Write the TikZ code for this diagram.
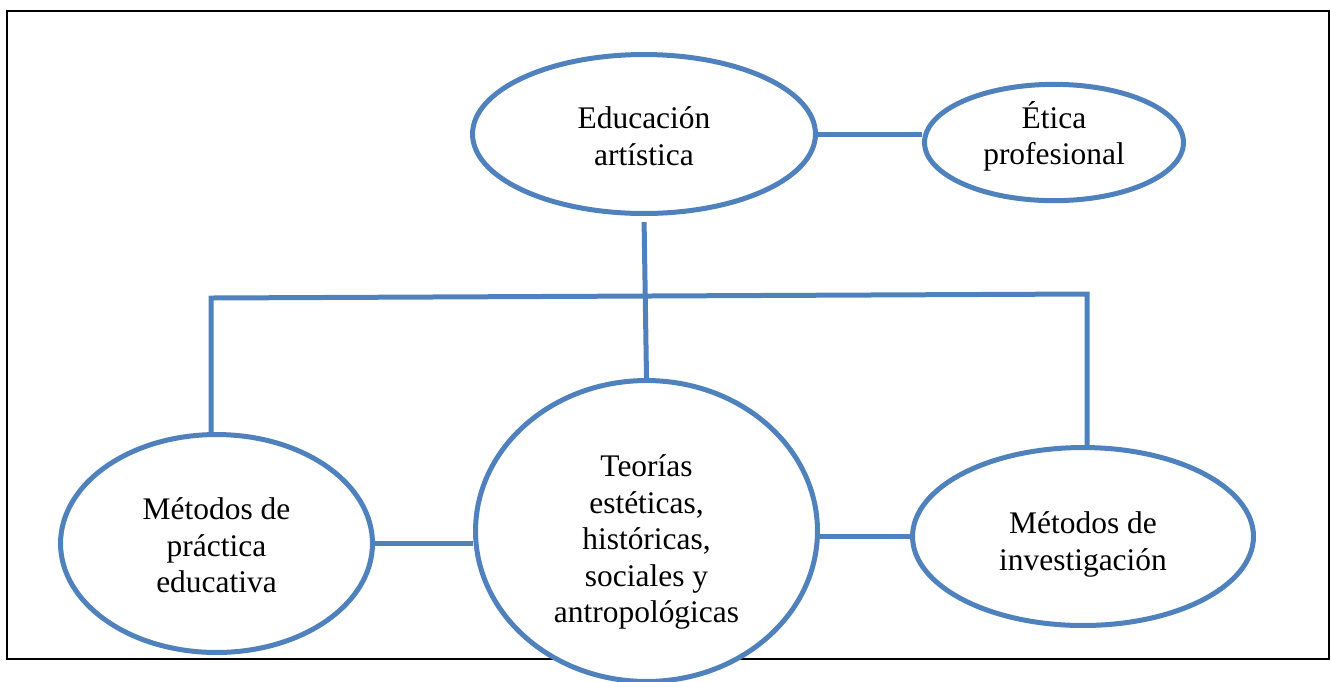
\documentclass[tikz,border=0pt]{standalone}
\usepackage{fontspec}
\setmainfont{Liberation Serif}
\usepackage{tikz}
\usetikzlibrary{shapes.geometric, backgrounds, shadows}
\definecolor{mapblue}{RGB}{79,129,189}
\newcommand{\padtop}[2]{\raisebox{0pt}[\dimexpr\height+#1\relax]{#2}}
\newcommand{\padbot}[2]{\raisebox{0pt}[\height][\dimexpr\depth+#1\relax]{#2}}
\tikzset{%
	topic/.style={draw=mapblue, ellipse, line width=0.1cm, fill=white, inner sep=0mm,%
		align=center, font=\fontsize{17.9}{20.8}\selectfont,%
		drop shadow={shadow xshift=0.6pt, shadow yshift=-1.2pt, opacity=0.25}},
	connector/.style={draw=mapblue, line width=0.1cm},
	frame/.style={draw=black, line width=0.04cm}
}

\begin{document}
\begin{tikzpicture}[x=0.02cm, y=-0.02cm]
	\useasboundingbox (0,0) rectangle (1331,681);
	\node[topic, minimum width=6.86cm, minimum height=3.18cm] (edu) at (644,134) {\padtop{0.08cm}{Educación}\\artística};
	\node[topic, minimum width=5.18cm, minimum height=2.32cm] (etica) at (1054,142.5) {Ética\\\padbot{0.24cm}{profesional}};
	\node[topic, minimum width=6.24cm, minimum height=4.36cm] (prac) at (216.5,543.5) {\padtop{0.08cm}{Métodos de}\\práctica\\educativa};
	\node[topic, minimum width=6.84cm, minimum height=6.02cm] (teo) at (646.5,531) {\padtop{0.44cm}{Teorías}\\estéticas,\\históricas,\\sociales y\\antropológicas};
	\node[topic, minimum width=6.82cm, minimum height=3.56cm] (inv) at (1083,536.5) {\padtop{0.32cm}{Métodos de}\\investigación};
	\coordinate (busL) at (211,298);
	\coordinate (busR) at (1087,294);

	\begin{scope}[on background layer]
		\draw[frame] (7,11) rectangle (1329,659);
		\draw[connector] (edu.east) -- (edu.east -| etica.west);
		\draw[connector, shorten <=3.5pt] (edu.south) -- (teo.north);
		\draw[connector] (busL |- prac.north) -- (busL) -- (busR) -- (busR |- inv.north);
		\draw[connector] (prac.east) -- (prac.east -| teo.west);
		\draw[connector] (teo.east |- inv.west) -- (inv.west);
	\end{scope}
\end{tikzpicture}
\end{document}
